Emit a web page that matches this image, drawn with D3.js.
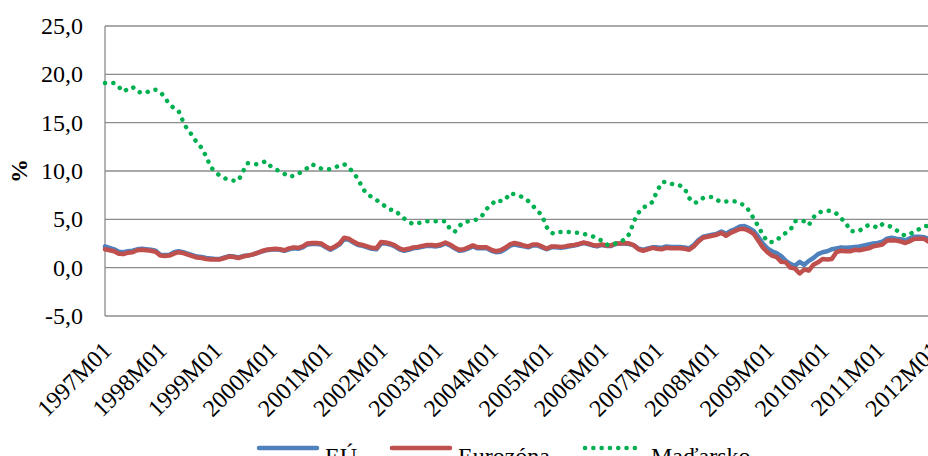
<!DOCTYPE html>
<html lang="sk">
<head>
	<meta charset="UTF-8">
	<script src="https://cdn.jsdelivr.net/npm/d3@7"></script>
	<title>Inflácia</title>
	<style>
		body { margin: 0; background: #fff; }
		svg { display: block; }
		svg text { font-family: "Liberation Serif", "DejaVu Serif", serif; fill: #000; }
	</style>
</head>
<body>
	<svg width="928" height="456"></svg>
<script>
	// tick labels on the category axis (one per January)
	var tickLabels = ["1997M01","1998M01","1999M01","2000M01","2001M01","2002M01","2003M01","2004M01",
		"2005M01","2006M01","2007M01","2008M01","2009M01","2010M01","2011M01","2012M01"];
	var yTicks = [-5, 0, 5, 10, 15, 20, 25];

	// monthly values, 1997M01 .. 2012M01
	var eu = [
		2.2,2.05,1.9,1.65,1.6,1.7,1.75,1.9,1.95,1.9,1.85,1.75,
		1.35,1.3,1.35,1.6,1.7,1.6,1.45,1.3,1.15,1.1,1.0,0.95,
		0.9,0.9,1.05,1.2,1.15,1.05,1.2,1.25,1.35,1.5,1.65,1.8,
		1.85,1.9,1.85,1.75,1.9,2.0,1.95,2.1,2.4,2.45,2.45,2.4,
		2.1,1.85,2.1,2.4,2.95,2.9,2.6,2.35,2.25,2.1,1.95,1.9,
		2.5,2.5,2.4,2.2,1.9,1.75,1.85,2.0,2.05,2.15,2.25,2.25,
		2.2,2.3,2.5,2.3,2.0,1.75,1.8,2.0,2.2,2.0,2.0,2.0,
		1.75,1.6,1.65,1.9,2.25,2.4,2.3,2.2,2.1,2.3,2.3,2.1,
		1.9,2.1,2.1,2.05,2.1,2.2,2.3,2.4,2.55,2.45,2.3,2.2,
		2.35,2.25,2.25,2.45,2.5,2.5,2.45,2.3,1.95,1.85,2.0,2.1,
		2.1,2.05,2.2,2.15,2.15,2.15,2.1,2.0,2.35,2.85,3.2,3.3,
		3.4,3.5,3.75,3.5,3.8,4.0,4.25,4.3,4.1,3.8,3.2,2.5,
		2.0,1.7,1.5,1.2,0.7,0.4,0.2,0.6,0.3,0.7,1.0,1.4,
		1.6,1.7,1.9,2.0,2.1,2.05,2.1,2.15,2.2,2.3,2.4,2.5,
		2.55,2.7,3.0,3.1,3.0,2.95,2.8,3.05,3.2,3.2,3.15,3.0,
		2.9
	];
	var eurozona = [
		1.9,1.8,1.7,1.45,1.4,1.55,1.6,1.8,1.85,1.8,1.75,1.65,
		1.25,1.2,1.25,1.45,1.6,1.5,1.35,1.2,1.05,1.0,0.9,0.85,
		0.85,0.85,1.0,1.15,1.1,1.0,1.15,1.25,1.35,1.5,1.7,1.85,
		1.9,1.95,1.9,1.8,2.0,2.1,2.05,2.2,2.5,2.55,2.55,2.5,
		2.2,1.95,2.2,2.5,3.1,3.0,2.7,2.45,2.35,2.2,2.05,2.0,
		2.65,2.6,2.5,2.3,2.0,1.85,1.95,2.1,2.15,2.25,2.35,2.35,
		2.3,2.4,2.6,2.4,2.1,1.85,1.9,2.1,2.3,2.1,2.1,2.1,
		1.85,1.7,1.8,2.05,2.4,2.55,2.45,2.3,2.2,2.4,2.4,2.2,
		1.95,2.2,2.2,2.15,2.2,2.3,2.35,2.45,2.6,2.5,2.35,2.3,
		2.4,2.3,2.3,2.5,2.5,2.55,2.5,2.3,1.9,1.75,1.9,2.05,
		1.95,1.9,2.05,2.0,2.0,2.0,1.95,1.85,2.2,2.7,3.1,3.2,
		3.3,3.4,3.6,3.3,3.6,3.8,4.0,4.0,3.8,3.5,2.8,2.1,
		1.6,1.25,1.1,0.6,0.55,0.0,-0.1,-0.6,-0.2,-0.3,0.3,0.55,
		0.9,0.85,0.9,1.6,1.75,1.7,1.7,1.85,1.8,1.9,2.0,2.2,
		2.3,2.4,2.8,2.8,2.8,2.7,2.55,2.75,3.0,3.0,3.0,2.7,
		2.7
	];
	var madarsko = [
		19.1,19.1,19.1,18.7,18.2,18.5,18.7,18.2,18.1,18.1,18.4,18.4,
		18.2,17.6,16.9,16.5,16.2,15.1,14.2,13.7,12.9,12.4,11.5,10.4,
		9.9,9.5,9.25,9.1,9.0,9.0,9.95,10.8,10.75,10.7,10.85,11.0,
		10.5,10.2,9.95,9.7,9.4,9.5,9.7,10.0,10.3,10.7,10.45,10.25,
		10.15,10.2,10.35,10.6,10.7,10.4,9.8,9.2,8.2,7.6,7.3,7.0,
		6.7,6.3,6.0,5.95,5.5,5.1,4.75,4.5,4.6,4.7,4.8,4.8,
		4.8,4.8,4.8,4.0,3.7,4.3,4.7,4.8,4.9,5.0,5.4,6.1,
		6.5,7.0,6.9,7.0,7.7,7.6,7.45,7.25,6.9,6.4,5.9,5.4,
		4.2,3.6,3.5,3.7,3.7,3.7,3.6,3.6,3.5,3.4,3.25,3.0,
		2.8,2.4,2.3,2.5,2.7,2.9,3.5,4.8,5.7,6.25,6.4,6.8,
		7.9,8.8,8.9,8.7,8.55,8.5,8.2,7.2,6.7,6.8,7.2,7.3,
		7.3,7.0,6.8,6.85,6.9,6.85,6.6,6.5,5.9,5.1,4.3,3.4,
		2.7,2.65,2.8,3.3,3.6,3.9,4.8,4.9,4.8,4.4,5.2,5.7,
		5.8,5.9,5.85,5.6,5.1,4.7,3.8,3.75,3.8,4.2,4.4,4.35,
		4.1,4.5,4.4,4.2,3.9,3.5,3.3,3.5,3.7,4.0,4.3,4.3,
		4.2
	];

	var seriesNames = ["EÚ", "Eurozóna", "Maďarsko"];
	var seriesColors = ["#4F81BD", "#C0504D", "#00B050"];

	// month categories 1997M01 .. 2012M01
	var months = [];
	for (var yr = 1997; yr <= 2012; yr++) {
		for (var m = 1; m <= 12; m++) {
			if (yr == 2012 && m > 1) break;
			months.push(yr + "M" + (m < 10 ? "0" + m : m));
		}
	}

	var svg = d3.select("svg");
	var plotLeft = 105, plotTop = 26, plotBottom = 316;
	var stepX = 4.6;
	var serif = "'Liberation Serif', 'DejaVu Serif', serif";

	var x = d3.scaleLinear()
		.domain([0, months.length - 1])
		.range([plotLeft, plotLeft + stepX * (months.length - 1)]);
	var y = d3.scaleLinear().domain([-5, 25]).range([plotBottom, plotTop]);

	var fmt = function(v) { return d3.format(".1f")(v).replace(".", ",").replace("−", "-"); };

	// gridlines
	svg.append("g")
		.selectAll("line")
		.data(yTicks)
		.enter()
		.append("line")
		.attr("x1", plotLeft)
		.attr("x2", 928)
		.attr("y1", function(d) { return y(d); })
		.attr("y2", function(d) { return y(d); })
		.attr("stroke", "#8c8c8c")
		.attr("stroke-width", 1.3);

	// y axis line and labels
	svg.append("line")
		.attr("x1", plotLeft).attr("x2", plotLeft)
		.attr("y1", plotTop).attr("y2", plotBottom)
		.attr("stroke", "#8c8c8c")
		.attr("stroke-width", 1.3);

	svg.append("g")
		.selectAll("text")
		.data(yTicks)
		.enter()
		.append("text")
		.attr("x", 83)
		.attr("y", function(d) { return y(d) + 8; })
		.attr("text-anchor", "end")
		.style("font-family", serif)
		.style("font-size", "24px")
		.text(fmt);

	svg.append("text")
		.attr("transform", "translate(27,171) rotate(-90)")
		.attr("text-anchor", "middle")
		.style("font-family", serif)
		.style("font-size", "24px")
		.style("font-weight", "bold")
		.text("%");

	// x labels, rotated
	svg.append("g")
		.selectAll("text")
		.data(tickLabels)
		.enter()
		.append("text")
		.attr("transform", function(d) {
			var i = months.indexOf(d);
			return "translate(" + (x(i) + 8) + ",352) rotate(-45)";
		})
		.attr("text-anchor", "end")
		.style("font-family", serif)
		.style("font-size", "24px")
		.text(function(d) { return d; });

	// lines
	var line = d3.line()
		.x(function(d, i) { return x(i); })
		.y(function(d) { return y(d); });

	var data = [eu, eurozona, madarsko];
	svg.append("g")
		.selectAll("path")
		.data(data)
		.enter()
		.append("path")
		.attr("d", line)
		.attr("fill", "none")
		.attr("stroke", function(d, i) { return seriesColors[i]; })
		.attr("stroke-width", 4.5)
		.attr("stroke-linejoin", "round")
		.attr("stroke-linecap", "round")
		.attr("stroke-dasharray", function(d, i) { return i == 2 ? "0.1 8.2" : null; });

	// legend
	var legendX = [257, 390, 583];
	var leg = svg.append("g")
		.selectAll("g")
		.data(seriesNames)
		.enter()
		.append("g")
		.attr("transform", function(d, i) { return "translate(" + legendX[i] + ",448)"; });

	leg.append("line")
		.attr("x1", 2).attr("x2", 60)
		.attr("y1", 0).attr("y2", 0)
		.attr("stroke", function(d, i) { return seriesColors[i]; })
		.attr("stroke-width", 4.5)
		.attr("stroke-linecap", "round")
		.attr("stroke-dasharray", function(d, i) { return i == 2 ? "0.1 8.2" : null; });

	leg.append("text")
		.attr("x", 68)
		.attr("y", 16)
		.style("font-family", serif)
		.style("font-size", "24px")
		.text(function(d) { return d; });
</script>
</body>
</html>
